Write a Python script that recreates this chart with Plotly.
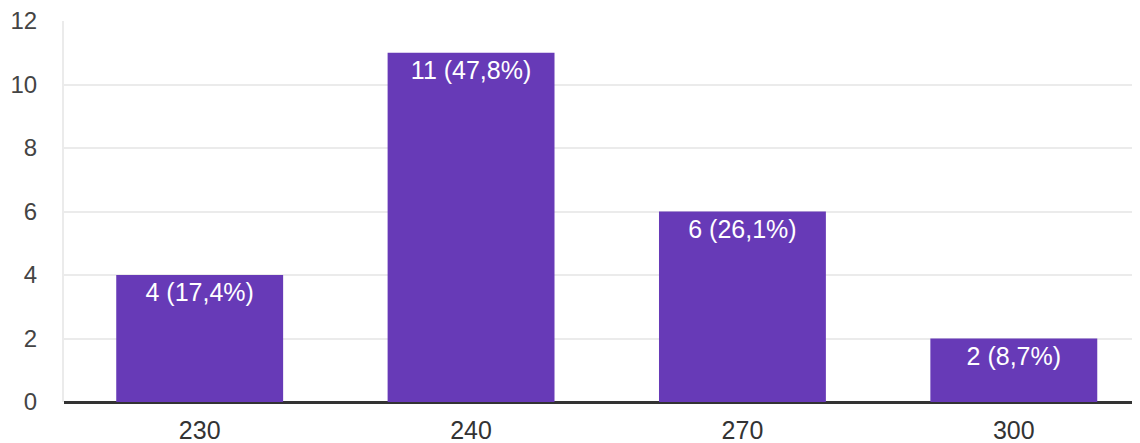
import plotly.graph_objects as go

categories = ["230", "240", "270", "300"]
counts = [4, 11, 6, 2]
y_ticks = [0, 2, 4, 6, 8, 10, 12]

total = sum(counts)
labels = [f"{c} ({c / total * 100:.1f}%)".replace(".", ",") for c in counts]

fig = go.Figure(
    go.Bar(
        x=categories,
        y=counts,
        text=labels,
        textposition="inside",
        insidetextanchor="end",
        textangle=0,
        textfont=dict(family="Liberation Sans, Arial, sans-serif", size=25, color="#ffffff"),
        marker=dict(color="#673ab7", line=dict(width=0)),
        width=0.615,
        hoverinfo="skip",
    )
)

fig.update_layout(
    width=1140,
    height=443,
    margin=dict(l=56, r=8, t=13, b=49, autoexpand=False),
    paper_bgcolor="#ffffff",
    plot_bgcolor="#ffffff",
    showlegend=False,
    font=dict(family="Liberation Sans, Arial, sans-serif", size=25, color="#444444"),
)
fig.update_xaxes(
    type="category",
    range=[-0.5, 3.465],
    showgrid=False,
    ticks="",
    automargin=False,
    tickfont=dict(size=25, color="#333333"),
    ticklabelstandoff=11,
)
fig.update_yaxes(
    range=[0, 12],
    tickvals=y_ticks,
    showgrid=True,
    gridcolor="#ebebeb",
    gridwidth=2,
    zeroline=True,
    zerolinecolor="#333333",
    zerolinewidth=3,
    showline=True,
    linecolor="#ebebeb",
    linewidth=2,
    ticks="",
    automargin=False,
    ticklabeloverflow="allow",
    tickfont=dict(size=24, color="#444444"),
    ticklabelstandoff=20,
)

fig.write_html("out.html")
